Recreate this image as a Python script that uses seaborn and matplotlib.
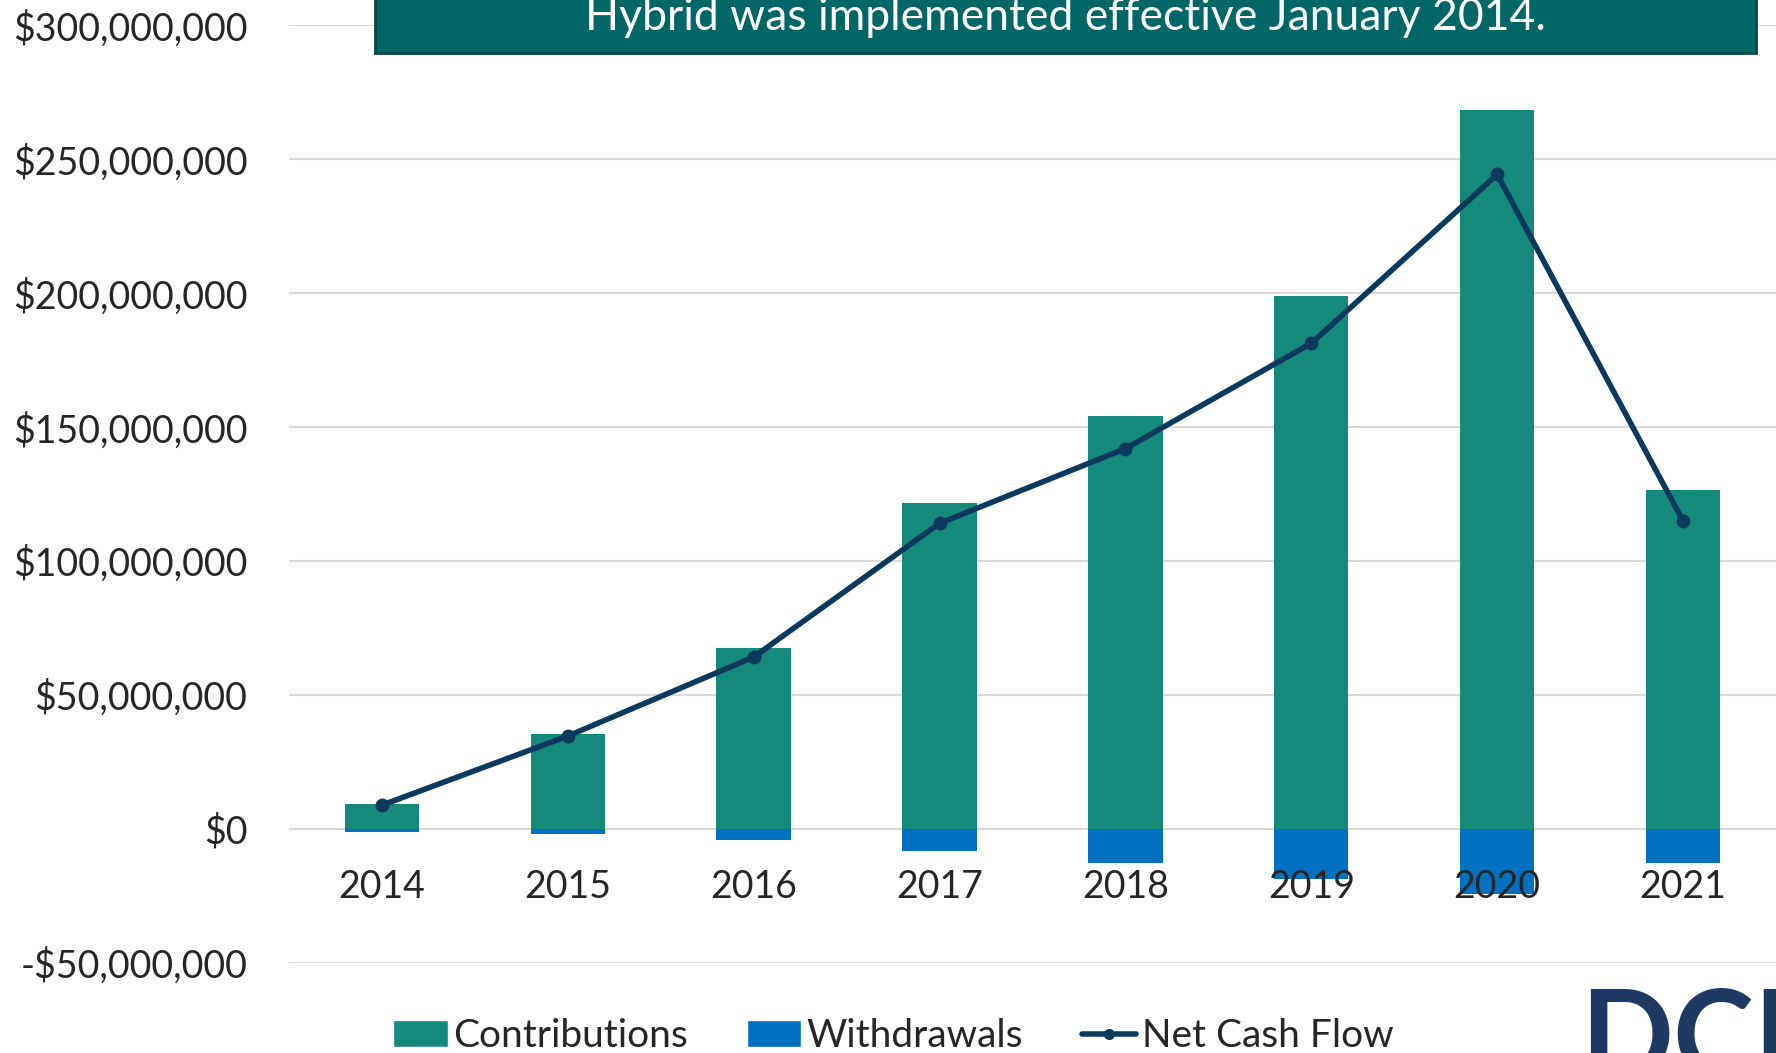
import matplotlib
matplotlib.use('Agg')
import matplotlib.pyplot as plt
import seaborn as sns
from matplotlib.patches import Patch, Rectangle
from matplotlib.lines import Line2D
from matplotlib.ticker import FuncFormatter

# Values
years = ['2014', '2015', '2016', '2017', '2018', '2019', '2020', '2021']
contributions = [9.3e6, 35.5e6, 67.6e6, 121.7e6, 154.3e6, 199.0e6, 268.4e6, 126.4e6]
withdrawals = [-1.1e6, -1.8e6, -4.2e6, -8.2e6, -12.7e6, -18.5e6, -24.1e6, -12.7e6]
net_cash_flow = [8.9e6, 34.7e6, 64.2e6, 114.1e6, 142.0e6, 181.3e6, 244.3e6, 115.0e6]
y_ticks = [-50e6, 0, 50e6, 100e6, 150e6, 200e6, 250e6, 300e6]

teal = '#15897A'
blue = '#0070C0'
navy = '#0B3A5E'

sns.set_style('white')
plt.rcParams['font.family'] = ['Lato', 'DejaVu Sans']

fig = plt.figure(figsize=(17.76, 10.53), dpi=100)
ax = fig.add_axes([0.1627, 0.0855, 0.8373, 0.8905])

sns.barplot(x=years, y=contributions, color=teal, saturation=1, width=0.4, linewidth=0, ax=ax)
sns.barplot(x=years, y=withdrawals, color=blue, saturation=1, width=0.4, linewidth=0, ax=ax)
sns.pointplot(x=years, y=net_cash_flow, color=navy, markers='o', linewidth=4,
              markersize=7, ax=ax, zorder=5)

ax.set_xlim(-0.5, 7.5)
ax.set_ylim(-50e6, 300e6)
ax.set_yticks(y_ticks)
ax.yaxis.set_major_formatter(FuncFormatter(
    lambda v, p: ('-$' if v < 0 else '$') + f'{abs(v):,.0f}'))
ax.grid(axis='y', color='#D9D9D9', linewidth=1.5)
ax.set_axisbelow(True)
ax.xaxis.set_zorder(10)  # year labels sit on top of the withdrawal bars
for s in ax.spines.values():
    s.set_visible(False)
ax.spines['bottom'].set_position(('data', 0))
ax.tick_params(axis='y', length=0, pad=30, labelsize=27)
ax.tick_params(axis='x', length=0, pad=29, labelsize=27)
ax.set_xlabel('')
ax.set_ylabel('')

# Banner at the top
fig.patches.append(Rectangle((0.211, 0.9497), 0.778, 0.07, transform=fig.transFigure,
                             facecolor='#006666', edgecolor='#004848', linewidth=2))
fig.text(0.600, 1 - 18 / 1053, 'Hybrid was implemented effective January 2014.',
         color='white', fontsize=32, ha='center', va='center')

# Legend
handles = [Patch(facecolor=teal, label='Contributions'),
           Patch(facecolor=blue, label='Withdrawals'),
           Line2D([0], [0], color=navy, linewidth=4, marker='o', markersize=7,
                  label='Net Cash Flow')]
fig.legend(handles=handles, loc='center', bbox_to_anchor=(0.503, 0.016), ncol=3,
           frameon=False, fontsize=28, handlelength=1.4, handleheight=0.7,
           handletextpad=0.15, columnspacing=1.5)

# Logo text, cut at the corner
fig.text(1580 / 1776, 1 - 1078 / 1053, 'DCRB', color='#1F3864', fontsize=88,
         fontweight='bold', ha='left', va='baseline')

fig.savefig('out.png', dpi=100)
